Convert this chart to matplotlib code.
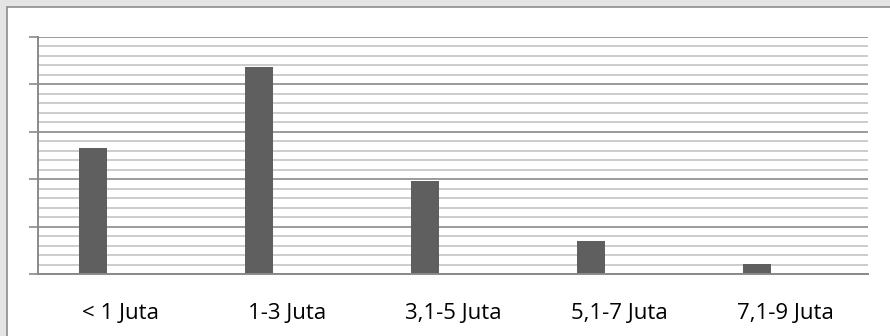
"""
pendapatan per bulan - bar chart
"""

import matplotlib.pyplot as plt # grafik
import matplotlib.patches as patches # kotak latar
from matplotlib.ticker import MultipleLocator # grid minor
import numpy as np

# data
kategori = ["< 1 Juta", "1-3 Juta", "3,1-5 Juta", "5,1-7 Juta", "7,1-9 Juta"]
nilai = [26.6, 43.7, 19.7, 7.0, 2.1] # (satuan tidak tertera)

BAR_COLOR = "#5f5f5f"
GRID_MAJOR = "#8a8a8a"
GRID_MINOR = "#c4c4c4"

fig = plt.figure(figsize=(8.9, 3.36), dpi=100)
fig.patch.set_facecolor("#e4e4e4") # latar belakang di luar kotak

# kotak putih area grafik (dibelakang axes)
kotak = patches.Rectangle((7/890, -0.1), 1.1, 1 - 7/336 + 0.1, transform=fig.transFigure,
                          facecolor="white", edgecolor="#8c8c8c", linewidth=1.2, zorder=-10)
fig.patches.append(kotak)

ax = fig.add_axes([37.7/890, 1 - 274/336, (868 - 37.7)/890, (274 - 37)/336])
ax.set_facecolor("none")

x = np.arange(len(kategori))
lebar = 0.169
ax.bar(x - lebar, nilai, width=lebar, color=BAR_COLOR, zorder=3)

ax.set_xlim(-0.5, len(kategori) - 0.5)
ax.set_ylim(0, 50)
ax.yaxis.set_major_locator(MultipleLocator(10))
ax.yaxis.set_minor_locator(MultipleLocator(2))

# grid horizontal
ax.grid(axis="y", which="major", color=GRID_MAJOR, linewidth=1.2, zorder=1)
ax.grid(axis="y", which="minor", color=GRID_MINOR, linewidth=1.2, zorder=1)

ax.set_xticks(x)
ax.set_xticklabels(kategori, fontsize=16, family=["Open Sans", "DejaVu Sans"])
for lbl in ax.get_xticklabels():
    lbl.set_va("baseline") # posisi teks diukur dari baseline
ax.tick_params(axis="x", length=0, pad=32.4, colors="black")
ax.tick_params(axis="y", which="major", length=6.3, width=1.2, color=GRID_MAJOR, labelleft=False)
ax.tick_params(axis="y", which="minor", length=0)

for s in ["top", "right"]:
    ax.spines[s].set_visible(False)
for s in ["left", "bottom"]:
    ax.spines[s].set_color(GRID_MAJOR)
    ax.spines[s].set_linewidth(1.4)
    ax.spines[s].set_zorder(4)

fig.savefig("out.png", dpi=100, facecolor=fig.get_facecolor())
